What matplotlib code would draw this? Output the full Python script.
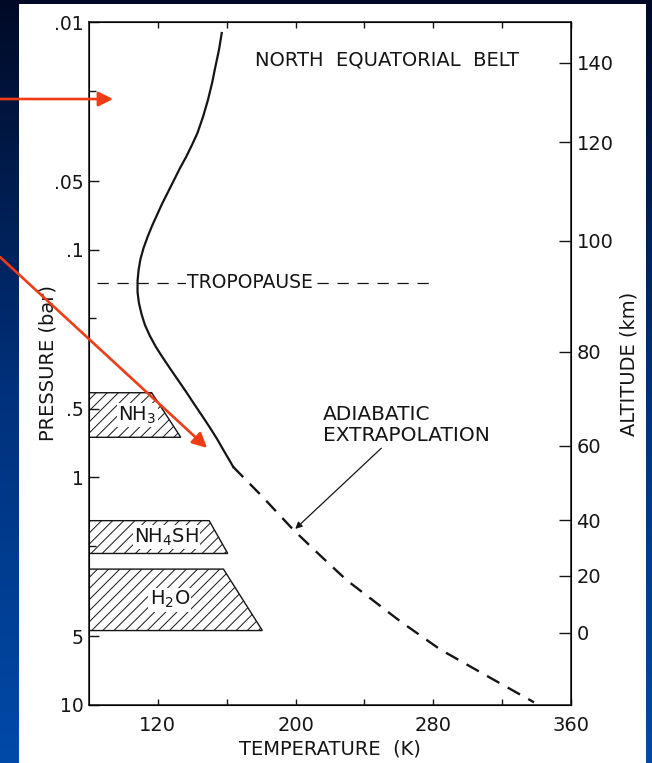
import matplotlib.pyplot as plt
import numpy as np
from matplotlib.colors import LinearSegmentedColormap
from matplotlib.patches import Polygon, Rectangle
from matplotlib.ticker import NullFormatter, NullLocator

# temperature profile, measured part (K, bar)
temp_solid = [157.1, 155.5, 153.5, 151.5, 149.1, 146.2, 143.0, 139.8, 136.4, 132.9,
              129.4, 125.9, 122.4, 119.5, 116.6, 114.0, 111.7, 109.9, 108.8, 108.2,
              108.2, 109.0, 110.5, 112.5, 115.4, 118.9, 123.0, 127.3, 131.7, 136.1,
              140.7, 145.4, 150.0, 154.4, 158.4, 162.5, 163.8]
pres_solid = [0.01118, 0.01327, 0.01561, 0.01853, 0.0220, 0.02614, 0.03073, 0.0347,
              0.03917, 0.04378, 0.04943, 0.0558, 0.0630, 0.0704, 0.0787, 0.0880,
              0.0983, 0.1099, 0.1229, 0.1373, 0.1535, 0.1715, 0.1917, 0.2143,
              0.2395, 0.2677, 0.2992, 0.3343, 0.3736, 0.4177, 0.4716, 0.5323,
              0.6009, 0.6784, 0.7660, 0.8650, 0.9007]

# adiabatic extrapolation (dashed)
temp_adiab = [163.8, 180.0, 198.7, 214.2, 229.7, 261.0, 284.0, 311.8, 338.5]
pres_adiab = [0.9007, 1.20, 1.70, 2.20, 2.83, 4.30, 5.70, 7.50, 9.73]

# cloud layers
cloud_names = ['NH$_3$', 'NH$_4$SH', 'H$_2$O']
cloud_p_top = [0.425, 1.55, 2.53]
cloud_p_bot = [0.667, 2.16, 4.71]
cloud_t_top = [116.4, 149.8, 158.1]
cloud_t_bot = [133.3, 160.6, 180.7]
cloud_label_t = [108, 125, 127]

tropopause_p = 0.14

p_ticks = [0.01, 0.05, 0.1, 0.5, 1, 5, 10]
p_labels = ['.01', '.05', '.1', '.5', '1', '5', '10']
p_minor = [0.02, 0.2, 2]
t_ticks = [120, 160, 200, 240, 280, 320, 360]
t_labels = ['120', '', '200', '', '280', '', '360']
alt_pres = [0.0151, 0.0337, 0.0916, 0.281, 0.728, 1.54, 2.71, 4.82]
alt_labels = ['140', '120', '100', '80', '60', '40', '20', '0']

plt.rcParams['font.family'] = ['DejaVu Sans']
plt.rcParams['hatch.linewidth'] = 0.7
ink = '#151515'
red = '#f03c14'

fig = plt.figure(figsize=(6.52, 7.63), dpi=100)

# slide background: dark navy to blue
bg = fig.add_axes([0, 0, 1, 1], zorder=-10)
cmap = LinearSegmentedColormap.from_list('slide', ['#000a26', '#00307a', '#004aa8'])
bg.imshow(np.linspace(0, 1, 256).reshape(-1, 1), cmap=cmap, aspect='auto',
          extent=[0, 1, 0, 1])
bg.set_axis_off()
fig.patches.append(Rectangle((19 / 652, 0), 627 / 652, 1 - 4 / 763,
                             transform=fig.transFigure, facecolor='white',
                             edgecolor='none', zorder=-5))

ax = fig.add_axes([89 / 652, 1 - 705 / 763, 482 / 652, 683 / 763])
ax.set_facecolor('none')
ax.set_yscale('log')
ax.set_xlim(80, 360)
ax.set_ylim(10, 0.01)

# cloud layers
for name, pt, pb, tt, tb, lt in zip(cloud_names, cloud_p_top, cloud_p_bot,
                                     cloud_t_top, cloud_t_bot, cloud_label_t):
    poly = Polygon([(80, pt), (tt, pt), (tb, pb), (80, pb)], closed=True,
                   facecolor='white', edgecolor=ink, hatch='///', lw=1.0)
    ax.add_patch(poly)
    ax.text(lt, np.sqrt(pt * pb), name, ha='center', va='center', fontsize=14,
            color=ink, bbox=dict(facecolor='white', edgecolor='none', pad=1))

# profile
ax.plot(temp_solid, pres_solid, color=ink, lw=1.6, solid_joinstyle='round')
ax.plot(temp_adiab, pres_adiab, color=ink, lw=1.7, linestyle=(0, (6, 4)))

# tropopause
ax.plot([84.7, 281], [tropopause_p, tropopause_p], color=ink, lw=0.9,
        linestyle=(0, (9, 7)))
ax.text(173.6, tropopause_p, 'TROPOPAUSE', ha='center', va='center', fontsize=13.5,
        color=ink, bbox=dict(facecolor='white', edgecolor='none', pad=0.5))

ax.text(253, 0.0147, 'NORTH  EQUATORIAL  BELT', ha='center', va='center',
        fontsize=14, color=ink)
ax.text(216, 0.589, 'ADIABATIC\nEXTRAPOLATION', ha='left', va='center',
        fontsize=14.5, color=ink, linespacing=1.1)
ax.annotate('', xy=(199.8, 1.685), xytext=(249.8, 0.745),
            arrowprops=dict(arrowstyle='-|>', color=ink, lw=0.9,
                            mutation_scale=10, shrinkA=0, shrinkB=0))

# axes styling
ax.set_yticks(p_ticks)
ax.set_yticklabels(p_labels)
ax.set_yticks(p_minor, minor=True)
ax.yaxis.set_minor_formatter(NullFormatter())
ax.set_xticks(t_ticks)
ax.set_xticklabels(t_labels)
ax.tick_params(axis='y', which='major', direction='in', length=7, width=1,
               labelsize=13.5, pad=4, colors=ink)
ax.tick_params(axis='y', which='minor', direction='in', length=5, width=1, colors=ink)
ax.tick_params(axis='x', direction='in', length=4.5, width=1, top=True,
               labelsize=14, pad=8, colors=ink)
for s in ax.spines.values():
    s.set_linewidth(1.1)
    s.set_color(ink)
ax.set_xlabel('TEMPERATURE  (K)', fontsize=14, color=ink, labelpad=3)
ax.set_ylabel('PRESSURE (bar)', fontsize=14, color=ink, labelpad=-3)

ax2 = ax.twinx()
ax2.set_yscale('log')
ax2.set_ylim(10, 0.01)
ax2.set_yticks(alt_pres)
ax2.set_yticklabels(alt_labels)
ax2.yaxis.set_minor_locator(NullLocator())
ax2.tick_params(axis='y', direction='in', length=9, width=1, labelsize=14,
                pad=4, colors=ink)
ax2.set_ylabel('ALTITUDE (km)', fontsize=14, color=ink, labelpad=4)

# red pointer arrows from the slide edge
for tip, start in [((94, 0.0218), (0, 1 - 99 / 763)),
                   ((148.6, 0.743), (0, 1 - 257 / 763))]:
    ax2.annotate('', xy=tip, xycoords=ax.transData, xytext=start,
                 textcoords='figure fraction', annotation_clip=False,
                 arrowprops=dict(arrowstyle='-|>', color=red, lw=1.9,
                                 mutation_scale=22, shrinkA=0, shrinkB=0,
                                 clip_on=False))

fig.savefig('out.png', dpi=100)
